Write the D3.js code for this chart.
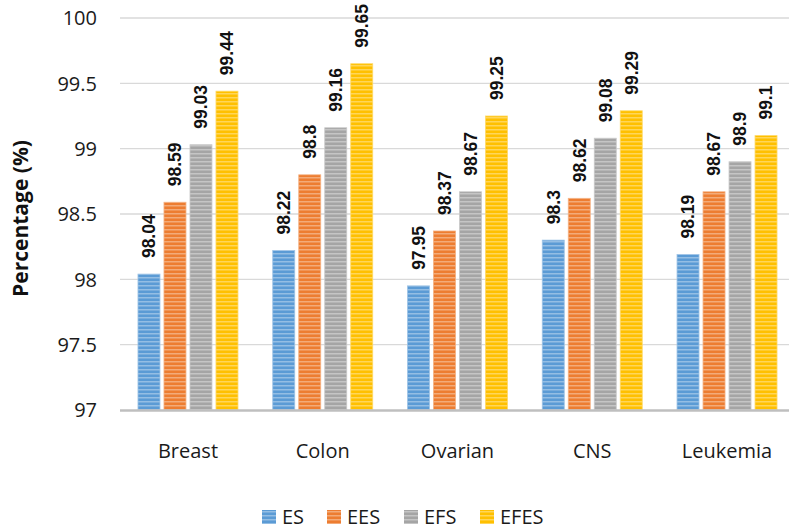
<!DOCTYPE html>
<html><head><meta charset="utf-8">
<script src="https://cdn.jsdelivr.net/npm/d3@7"></script>
<style>
body{margin:0;background:#fff;}
svg{display:block;}
</style></head>
<body>
<svg id="chart" width="789" height="531"></svg>
<script>
const categories = ["Breast","Colon","Ovarian","CNS","Leukemia"];
const seriesNames = ["ES","EES","EFS","EFES"];
const ES   = [98.04, 98.22, 97.95, 98.3, 98.19];
const EES  = [98.59, 98.8, 98.37, 98.62, 98.67];
const EFS  = [99.03, 99.16, 98.67, 99.08, 98.9];
const EFES = [99.44, 99.65, 99.25, 99.29, 99.1];
const yTicks = [97, 97.5, 98, 98.5, 99, 99.5, 100];
const colors = ["#5B9BD5","#ED7D31","#A5A5A5","#FFC000"];
const seriesValues = [ES, EES, EFS, EFES];

const svg = d3.select("#chart");
const tickFont = "'Open Sans', sans-serif";
const boldFont = "'Liberation Sans', Arial, sans-serif";

const y = d3.scaleLinear().domain([97,100]).range([410,18]);
const x0 = d3.scaleBand().domain(categories).range([120.6, 794.4]);
const x1 = d3.scaleBand().domain(seriesNames).range([0,104]).paddingInner(0.154).paddingOuter(0.077);

// patterns
const defs = svg.append("defs");
colors.forEach((c,i)=>{
  const light = d3.interpolateRgb(c, "#ffffff")(0.35);
  const p = defs.append("pattern").attr("id","pat"+i).attr("patternUnits","userSpaceOnUse")
    .attr("width",4).attr("height",4);
  p.append("rect").attr("width",4).attr("height",4).attr("fill",c);
  p.append("rect").attr("y",1).attr("width",4).attr("height",1.5).attr("fill",light);
});

// gridlines
svg.append("g").selectAll("line").data(yTicks.filter(t=>t>97)).join("line")
  .attr("x1",120).attr("x2",789).attr("y1",d=>y(d)).attr("y2",d=>y(d))
  .attr("stroke","#d9d9d9").attr("stroke-width",1.3);

// y tick labels
svg.append("g").selectAll("text").data(yTicks).join("text")
  .attr("x",97).attr("y",d=>y(d)).attr("dy","0.36em").attr("text-anchor","end")
  .attr("font-family",tickFont).attr("font-size",20).attr("fill","#1a1a1a")
  .text(d=>d);

// y axis title
const yt = svg.append("text").attr("transform","translate(28,218.5) rotate(-90)")
  .attr("text-anchor","middle").attr("font-family",tickFont).attr("font-weight","bold")
  .attr("font-size",20).attr("fill","#111").text("Percentage (%)");
const len = yt.node().getComputedTextLength();
if (len > 0) yt.attr("font-size", 20*157/len);

// bars
const groups = svg.append("g").selectAll("g").data(categories).join("g")
  .attr("transform",d=>`translate(${x0(d)+x0.bandwidth()/2-52},0)`);

groups.each(function(cat,ci){
  const g = d3.select(this);
  const data = seriesNames.map((s,si)=>({s,si,v:seriesValues[si][ci]}));
  g.selectAll("rect").data(data).join("rect")
    .attr("x",d=>x1(d.s)).attr("width",x1.bandwidth())
    .attr("y",d=>y(d.v)).attr("height",d=>y(97)-y(d.v))
    .attr("fill",d=>`url(#pat${d.si})`)
    .attr("stroke",d=>d3.interpolateRgb(colors[d.si],"#ffffff")(0.4)).attr("stroke-width",0.8);
  g.selectAll("text").data(data).join("text")
    .attr("transform",d=>`translate(${x1(d.s)+x1.bandwidth()/2},${y(d.v)-16}) rotate(-90)`)
    .attr("dy","0.36em").attr("text-anchor","start")
    .attr("font-family",boldFont).attr("font-weight","bold").attr("font-size",17.5).attr("fill","#111")
    .text(d=>d.v);
});

// x axis line
svg.append("line").attr("x1",120).attr("x2",789).attr("y1",410.5).attr("y2",410.5)
  .attr("stroke","#bfbfbf").attr("stroke-width",2.5);

// category labels
svg.append("g").selectAll("text").data(categories).join("text")
  .attr("x",d=>x0(d)+x0.bandwidth()/2).attr("y",458).attr("text-anchor","middle")
  .attr("font-family",tickFont).attr("font-size",20).attr("fill","#1a1a1a").text(d=>d);

// legend
const legendX = [262, 327, 404, 480];
const lg = svg.append("g").selectAll("g").data(seriesNames).join("g")
  .attr("transform",(d,i)=>`translate(${legendX[i]},510)`);
lg.append("rect").attr("width",14).attr("height",14).attr("fill",(d,i)=>`url(#pat${i})`);
lg.append("text").attr("x",20).attr("y",7).attr("dy","0.36em")
  .attr("font-family",tickFont).attr("font-size",20).attr("fill","#1a1a1a").text(d=>d);
</script>
</body></html>
